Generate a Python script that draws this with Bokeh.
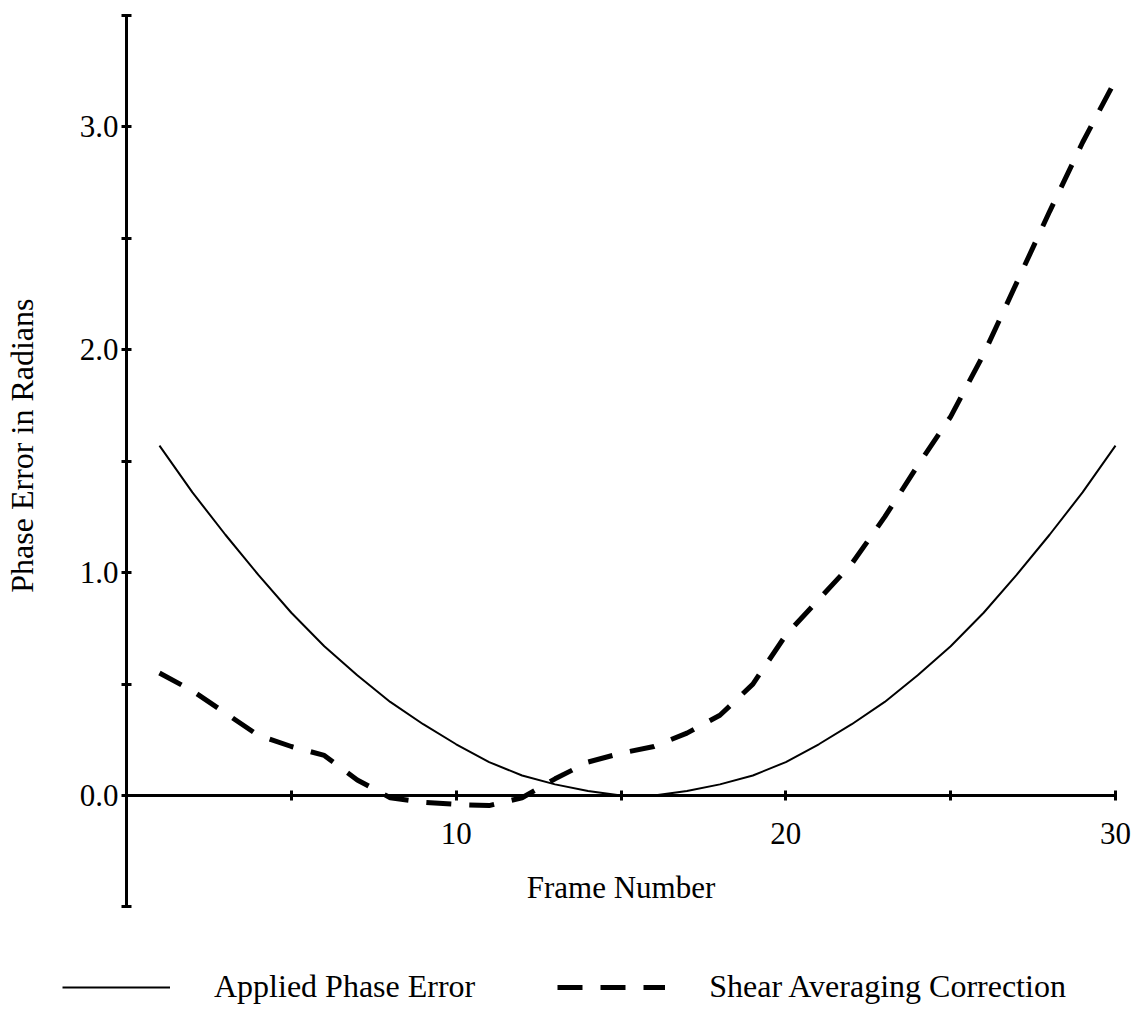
import math
from bokeh.plotting import figure
from bokeh.models import Range1d, FixedTicker, PrintfTickFormatter, Legend, LegendItem, Label
from bokeh.embed import file_html
from bokeh.resources import INLINE

# ---- data ----
frames = list(range(1, 31))
applied_phase_error = [1.57, 1.36, 1.17, 0.99, 0.82, 0.67, 0.54, 0.42, 0.32, 0.23,
                       0.15, 0.09, 0.05, 0.02, 0.00, 0.00, 0.02, 0.05, 0.09, 0.15,
                       0.23, 0.32, 0.42, 0.54, 0.67, 0.82, 0.99, 1.17, 1.36, 1.57]
shear_averaging = [0.55, 0.47, 0.37, 0.27, 0.22, 0.18, 0.07, -0.01, -0.03, -0.04,
                   -0.045, -0.01, 0.075, 0.15, 0.19, 0.22, 0.28, 0.36, 0.50, 0.72,
                   0.88, 1.04, 1.25, 1.48, 1.70, 1.98, 2.30, 2.62, 2.93, 3.21]

x_major_ticks = [10, 20, 30]
x_minor_ticks = [0, 5, 15, 25]
y_major_ticks = [0, 1, 2, 3]
y_minor_ticks = [-0.5, 0.5, 1.5, 2.5, 3.5]

x_title = "Frame Number"
y_title = "Phase Error in Radians"
series_names = ["Applied Phase Error", "Shear Averaging Correction"]

FONT = "Liberation Serif"
FS = "31px"

p = figure(width=1137, height=1009,
           x_range=Range1d(-3.822, 30.667), y_range=Range1d(-0.960, 3.567),
           output_backend="svg", toolbar_location=None, min_border=0)
p.grid.visible = False
p.outline_line_color = None
p.background_fill_color = "white"
p.border_fill_color = "white"

xa = p.xaxis[0]
ya = p.yaxis[0]
xa.fixed_location = 0
ya.fixed_location = 0
xa.bounds = (0, 30)
ya.bounds = (-0.5, 3.5)
xa.ticker = FixedTicker(ticks=x_major_ticks, minor_ticks=x_minor_ticks)
ya.ticker = FixedTicker(ticks=y_major_ticks, minor_ticks=y_minor_ticks)
ya.formatter = PrintfTickFormatter(format="%.1f")

for ax in (xa, ya):
    ax.axis_line_width = 3
    ax.axis_line_color = "black"
    ax.major_tick_in = 5
    ax.major_tick_out = 5
    ax.minor_tick_in = 5
    ax.minor_tick_out = 5
    ax.major_tick_line_width = 3
    ax.minor_tick_line_width = 3
    ax.major_tick_line_color = "black"
    ax.minor_tick_line_color = "black"
    ax.major_label_text_font = FONT
    ax.major_label_text_font_size = FS
    ax.major_label_text_color = "black"
    ax.axis_label_text_font = FONT
    ax.axis_label_text_font_size = FS
    ax.axis_label_text_font_style = "normal"
    ax.axis_label_text_color = "black"

xa.axis_label = x_title
xa.major_label_standoff = 22
xa.axis_label_standoff = 23
ya.major_label_standoff = 3

ylab = Label(x=-3.185, y=1.57, text=y_title, angle=math.pi / 2,
             text_align="center", text_baseline="middle",
             text_font=FONT, text_font_size="32px", text_color="black")
p.add_layout(ylab)

r1 = p.line(frames, applied_phase_error, line_color="black", line_width=2)
r2 = p.line(frames, shear_averaging, line_color="black", line_width=5, line_dash="25 18")

legend = Legend(items=[LegendItem(label=series_names[0], renderers=[r1]),
                       LegendItem(label=series_names[1], renderers=[r2])],
                orientation="horizontal", location=(62, 4),
                glyph_width=108, label_standoff=44, spacing=82,
                padding=0, margin=0, border_line_color=None,
                background_fill_alpha=0,
                label_text_font=FONT, label_text_font_size="32px",
                label_text_color="black")
p.add_layout(legend)

open("out.html", "w").write(file_html(p, INLINE))
